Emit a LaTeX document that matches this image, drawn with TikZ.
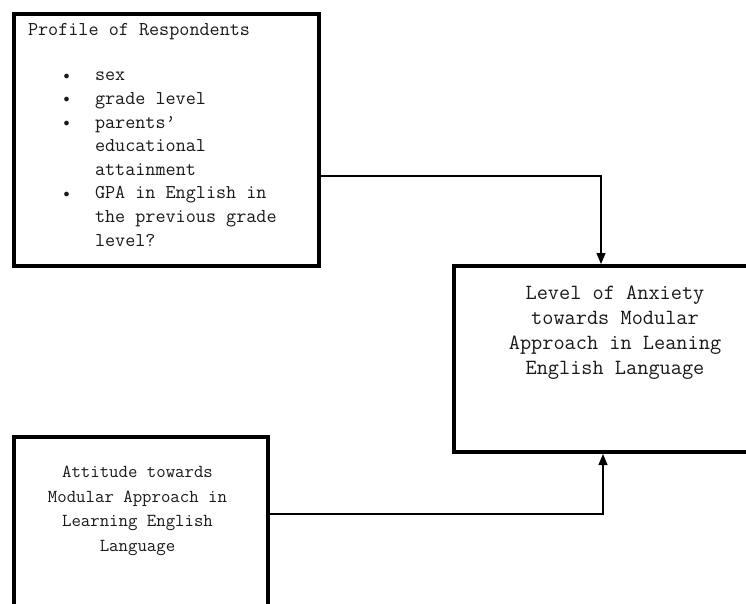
\documentclass[tikz,border=0pt]{standalone}
\usepackage{fontspec}
\usetikzlibrary{arrows.meta}
\tikzset{
  boxframe/.style={draw=black, line width=4pt, inner sep=0pt, fill=white},
  conn/.style={draw=black, line width=1.1pt, -{Triangle[length=11pt,width=9pt]}},
  plaintext/.style={inner sep=0pt, outer sep=0pt, text=black!90},
}
\newcommand{\itembul}{\makebox[33pt][l]{\hspace{1.5pt}\raisebox{1.5pt}{\fontsize{13}{13}\selectfont$\bullet$}}}
\newcommand{\itemnone}{\makebox[33pt][l]{}}
\begin{document}
\begin{tikzpicture}[x=1pt,y=-1pt]
\useasboundingbox (0,0) rectangle (746,604);
\clip (0,0) rectangle (746,604);
\fill[white] (0,0) rectangle (746,604);
% boxes
\node[boxframe, minimum width=305pt, minimum height=252pt, anchor=north west] (prof) at (12,12) {};
\node[boxframe, minimum width=330pt, minimum height=186pt, anchor=north west] (anx) at (452,264) {};
\node[boxframe, minimum width=254pt, minimum height=195pt, anchor=north west] (att) at (12,435) {};
% texts
\node[plaintext, anchor=north west, font=\ttfamily\fontsize{19.6}{23.6}\selectfont] (proftitle) at (28,19.3) {\strut Profile of Respondents};
\node[plaintext, anchor=north west, align=left, font=\ttfamily\fontsize{19.6}{23.6}\selectfont] (proflist) at (62,64.3) {%
\strut\itembul sex\\
\itembul grade level\\
\itembul parents’\\
\itemnone educational\\
\itemnone attainment\\
\itembul GPA in English in\\
\itemnone the previous grade\\
\itemnone level?};
\node[plaintext, anchor=north, align=center, font=\ttfamily\fontsize{21.7}{25}\selectfont] (anxtext) at (615,281.8) {%
\strut Level of Anxiety\\ towards Modular\\ Approach in Leaning\\ English Language};
\node[plaintext, anchor=north, align=center, font=\ttfamily\fontsize{18.3}{24.7}\selectfont] (atttext) at (137.5,460.3) {%
\strut Attitude towards\\ Modular Approach in\\ Learning English\\ Language};
% connectors
\coordinate (j1) at (601,176);
\coordinate (j2) at (603,514);
\draw[conn] (prof.east |- j1) -- (j1) -- (j1 |- anx.north);
\draw[conn] (att.east |- j2) -- (j2) -- (j2 |- anx.south);
\end{tikzpicture}
\end{document}
